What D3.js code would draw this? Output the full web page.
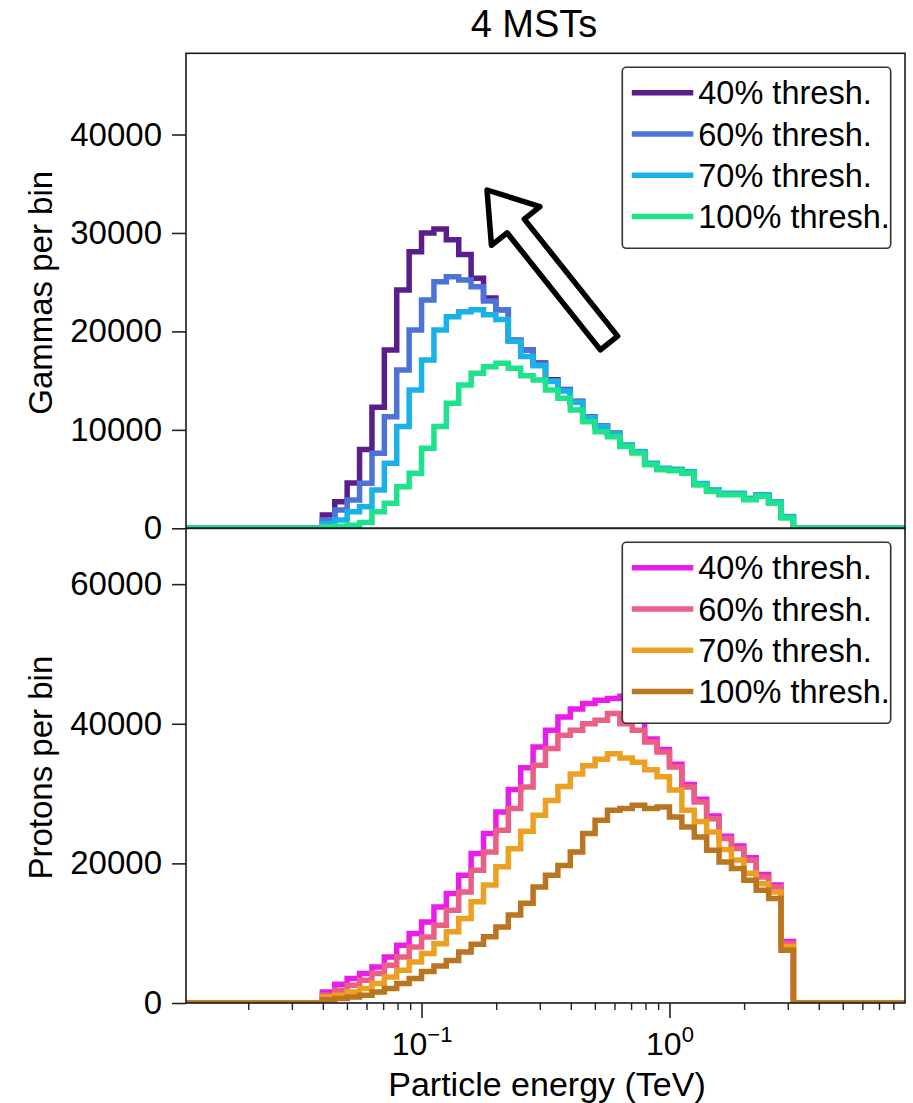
<!DOCTYPE html>
<html>
<head>
<meta charset="utf-8">
<script src="https://cdn.jsdelivr.net/npm/d3@7"></script>
<style>
  body { margin: 0; background: #fff; }
  text { font-family: "Liberation Sans", Arial, Helvetica, sans-serif; fill: #000; }
</style>
</head>
<body>
<svg id="chart" width="913" height="1103"></svg>
<script>
// Energy binning: 0.05-decade bins spanning 10^-1.95 .. 10^0.95 TeV
const binLog0 = -1.95, binLogWidth = 0.05, binCount = 58;
const firstFilledBin = 11;   // first populated bin starts at 0.04 TeV

const thresholdLabels = ["40% thresh.", "60% thresh.", "70% thresh.", "100% thresh."];

// Gamma events per bin (populated bins, 0.04 - 3.16 TeV)
const gamma40  = [1350, 2700, 4600, 8000, 12300, 18100, 24200, 28100, 30000, 30400, 29300, 27800, 25400, 23400, 22200, 19100, 18100, 16800, 15100, 14100, 12900, 11300, 10400, 9650, 8400, 7750, 6550, 6050, 5950, 5700, 4500, 3850, 3500, 3500, 3000, 3350, 2650, 1150];
const gamma60  = [840, 1860, 2880, 4570, 7620, 11340, 16080, 20150, 23190, 25050, 25560, 25220, 24540, 23100, 22200, 19100, 18100, 16700, 15000, 14050, 12850, 11300, 10400, 9650, 8400, 7750, 6550, 6050, 5950, 5700, 4500, 3850, 3500, 3500, 3000, 3350, 2650, 1150];
const gamma70  = [500, 840, 1690, 2200, 3890, 6600, 10330, 14050, 17100, 20150, 21500, 22000, 22200, 21700, 21200, 19000, 17450, 16500, 14900, 13950, 12800, 11250, 10350, 9600, 8450, 7800, 6600, 6100, 6000, 5750, 4550, 3900, 3550, 3550, 3050, 3400, 2700, 1200];
const gamma100 = [150, 200, 300, 600, 1690, 2540, 4230, 5590, 8130, 10330, 12700, 14560, 15750, 16420, 16760, 16250, 15500, 15070, 14050, 13210, 12020, 10830, 9810, 9310, 8300, 7650, 6450, 5950, 5850, 5600, 4400, 3750, 3400, 3400, 2900, 3250, 2550, 1050];

// Proton events per bin
const proton40  = [1580, 2680, 3500, 4210, 5160, 6590, 8270, 9940, 11600, 13750, 15670, 18290, 21400, 24270, 27360, 30600, 33700, 36680, 39070, 40970, 42100, 42890, 43370, 43610, 43940, 40400, 37800, 36300, 34200, 31300, 29200, 26800, 23900, 22500, 20800, 18400, 16900, 8800];
const proton60  = [1100, 1820, 2530, 3250, 4210, 5400, 6590, 8020, 9460, 11130, 13280, 15900, 19010, 21630, 24740, 27850, 30950, 34050, 36440, 38350, 39070, 40020, 40500, 41460, 40020, 39070, 37400, 35960, 33810, 30950, 28800, 26410, 23550, 22120, 20440, 18050, 16620, 8510];
const proton70  = [860, 1100, 1580, 2060, 2780, 3740, 4690, 5880, 7080, 8500, 10200, 12100, 14500, 16900, 19500, 22100, 24600, 26900, 29000, 31000, 32800, 34000, 34900, 35700, 35100, 34500, 33400, 32400, 30500, 27600, 26000, 24500, 22000, 20500, 18600, 17100, 15900, 8100];
const proton100 = [480, 630, 860, 1100, 1580, 2060, 2780, 3500, 4500, 5300, 6100, 7300, 8400, 9500, 10900, 12600, 14300, 16600, 18300, 19700, 21630, 24270, 26170, 27610, 27850, 28320, 27850, 28080, 26650, 25220, 23780, 21870, 20200, 19250, 17580, 16150, 14960, 7550];

const gammaTicks  = [0, 10000, 20000, 30000, 40000];
const protonTicks = [0, 20000, 40000, 60000];
const energyMajorTicks = [0.1, 1];
const energyMajorExp = ["\u22121", "0"];

const gammaColors  = ["#5a1d8a", "#4e73d8", "#19b1e8", "#1ee38b"];
const protonColors = ["#e91de8", "#e95f86", "#eba021", "#b9751f"];

// ---------------------------------------------------------------
const svg = d3.select("#chart");
const W = 913, H = 1103;
svg.append("rect").attr("width", W).attr("height", H).attr("fill", "#fff");

const plotL = 186, plotR = 905;
const topT = 53.3, midY = 528.3, botB = 1003;

const x = d3.scaleLog()
  .domain([Math.pow(10, binLog0), Math.pow(10, binLog0 + binCount * binLogWidth)])
  .range([plotL, plotR]);

const yGamma  = d3.scaleLinear().domain([0, 48250]).range([midY, topT]);
const yProton = d3.scaleLinear().domain([0, 68000]).range([botB, midY]);

// Expand the populated bins into the full histogram (empty bins are zero)
function fullHistogram(values) {
  const pts = [];
  for (let i = 0; i < binCount; i++) {
    const j = i - firstFilledBin;
    const v = (j >= 0 && j < values.length) ? values[j] : 0;
    pts.push([Math.pow(10, binLog0 + i * binLogWidth), v]);
  }
  pts.push([Math.pow(10, binLog0 + binCount * binLogWidth), 0]);
  return pts;
}

const defs = svg.append("defs");
function clip(id, y0, y1) {
  defs.append("clipPath").attr("id", id)
    .append("rect").attr("x", plotL).attr("y", y0)
    .attr("width", plotR - plotL).attr("height", y1 - y0);
}
clip("clipTop", topT, midY);
clip("clipBot", midY, botB);

function drawPanel(seriesList, colors, y, clipId) {
  const line = d3.line().x(d => x(d[0])).y(d => y(d[1])).curve(d3.curveStepAfter);
  const g = svg.append("g").attr("clip-path", `url(#${clipId})`);
  seriesList.forEach((vals, i) => {
    g.append("path")
      .attr("d", line(fullHistogram(vals)))
      .attr("fill", "none")
      .attr("stroke", colors[i])
      .attr("stroke-width", 5.5)
      .attr("stroke-linejoin", "miter")
      .attr("stroke-linecap", "butt");
  });
}

drawPanel([gamma40, gamma60, gamma70, gamma100], gammaColors, yGamma, "clipTop");
drawPanel([proton40, proton60, proton70, proton100], protonColors, yProton, "clipBot");

// Y axes
function yAxis(scale, ticks) {
  const g = svg.append("g").attr("transform", `translate(${plotL},0)`)
    .call(d3.axisLeft(scale).tickValues(ticks).tickSize(14).tickPadding(10).tickFormat(d3.format("d")));
  g.select(".domain").remove();
  g.selectAll(".tick line").attr("stroke", "#222").attr("stroke-width", 1.6);
  g.selectAll(".tick text").style("font-size", "33px")
    .style("font-family", "'Liberation Sans', Arial, sans-serif").attr("fill", "#111");
}
yAxis(yGamma, gammaTicks);
yAxis(yProton, protonTicks);

// X axis: minor and major log ticks
const minorTicks = [];
for (let e = -2; e <= 0; e++) {
  for (let m = 2; m <= 9; m++) {
    const v = m * Math.pow(10, e);
    if (v > x.domain()[0] && v < x.domain()[1]) minorTicks.push(v);
  }
}
const gxMinor = svg.append("g").attr("transform", `translate(0,${botB})`)
  .call(d3.axisBottom(x).tickValues(minorTicks).tickSize(7).tickFormat(() => ""));
gxMinor.select(".domain").remove();
gxMinor.selectAll(".tick line").attr("stroke", "#222").attr("stroke-width", 1.4);

const gxMajor = svg.append("g").attr("transform", `translate(0,${botB})`)
  .call(d3.axisBottom(x).tickValues(energyMajorTicks).tickSize(15).tickFormat(() => ""));
gxMajor.select(".domain").remove();
gxMajor.selectAll(".tick line").attr("stroke", "#222").attr("stroke-width", 1.6);
gxMajor.selectAll(".tick").each(function(d, i) {
  const t = d3.select(this).append("text")
    .attr("x", 0).attr("y", 52)
    .attr("text-anchor", "middle")
    .style("font-size", "32px").attr("fill", "#111");
  t.append("tspan").text("10");
  t.append("tspan").attr("dy", -13).style("font-size", "22px").text(energyMajorExp[i]);
});

// Frames
function frame(y0, y1) {
  svg.append("rect").attr("x", plotL).attr("y", y0)
    .attr("width", plotR - plotL).attr("height", y1 - y0)
    .attr("fill", "none").attr("stroke", "#1a1a1a").attr("stroke-width", 1.6);
}
frame(topT, midY);
frame(midY, botB);

// Legends
function legend(y0, colors) {
  const bx = 622.3, bw = 268.4, bh = 181;
  const g = svg.append("g");
  g.append("rect").attr("x", bx).attr("y", y0).attr("width", bw).attr("height", bh)
    .attr("rx", 4).attr("fill", "#fff").attr("stroke", "#333").attr("stroke-width", 1.6);
  thresholdLabels.forEach((lab, i) => {
    const cy = y0 + 25.4 + i * 41.3;
    g.append("line").attr("x1", bx + 9.5).attr("x2", bx + 71)
      .attr("y1", cy).attr("y2", cy)
      .attr("stroke", colors[i]).attr("stroke-width", 5.5);
    g.append("text").attr("x", bx + 76).attr("y", cy + 11.5)
      .style("font-size", "32.5px").text(lab);
  });
}
legend(67.3, gammaColors);
legend(542.3, protonColors);

// Arrow annotation
(function arrow() {
  const tail = [609, 343], tip = [487, 190];
  const dx = tip[0] - tail[0], dy = tip[1] - tail[1];
  const L = Math.hypot(dx, dy);
  const ux = dx / L, uy = dy / L, nx = -uy, ny = ux;
  const headLen = 46, headHalf = 31, shaftHalf = 11;
  const bxp = tip[0] - ux * headLen, byp = tip[1] - uy * headLen;
  const pts = [
    [tail[0] + nx * shaftHalf, tail[1] + ny * shaftHalf],
    [bxp + nx * shaftHalf, byp + ny * shaftHalf],
    [bxp + nx * headHalf, byp + ny * headHalf],
    [tip[0], tip[1]],
    [bxp - nx * headHalf, byp - ny * headHalf],
    [bxp - nx * shaftHalf, byp - ny * shaftHalf],
    [tail[0] - nx * shaftHalf, tail[1] - ny * shaftHalf]
  ];
  svg.append("polygon").attr("points", pts.map(p => p.join(",")).join(" "))
    .attr("fill", "#fff").attr("stroke", "#000").attr("stroke-width", 5.5)
    .attr("stroke-linejoin", "round");
})();

// Titles and axis labels
svg.append("text").attr("x", 534).attr("y", 37).attr("text-anchor", "middle")
  .style("font-size", "38px").text("4 MSTs");
svg.append("text").attr("x", 547).attr("y", 1096).attr("text-anchor", "middle")
  .style("font-size", "34px").text("Particle energy (TeV)");
svg.append("text").attr("transform", `translate(52,${(topT + midY) / 2 + 2}) rotate(-90)`)
  .attr("text-anchor", "middle").style("font-size", "33px").text("Gammas per bin");
svg.append("text").attr("transform", `translate(52,${(midY + botB) / 2 + 2}) rotate(-90)`)
  .attr("text-anchor", "middle").style("font-size", "33px").text("Protons per bin");
</script>
</body>
</html>
